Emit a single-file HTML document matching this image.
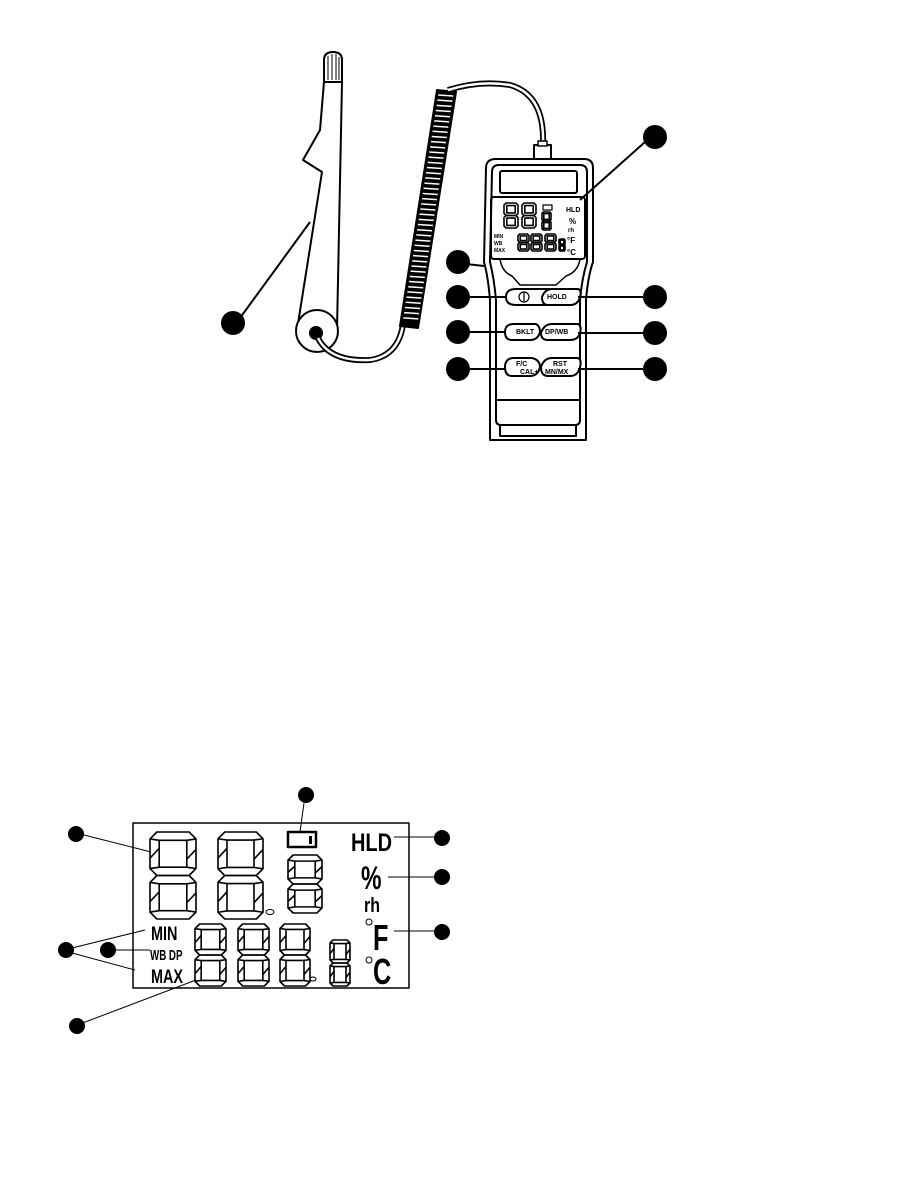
<!DOCTYPE html>
<html><head><meta charset="utf-8"><style>
html,body{margin:0;padding:0;background:#fff;}
svg{display:block}
text{font-family:"Liberation Sans",sans-serif;font-weight:bold;}
</style></head><body>
<svg id="s" width="907" height="1188" viewBox="0 0 907 1188" xmlns="http://www.w3.org/2000/svg">
<g fill="none" stroke="#000" stroke-width="2" stroke-linejoin="round">
<!-- probe -->
<path d="M324,82 L324,60 Q324,52 333,52 Q342,52 342,60 L342,82 Z" fill="#fff"/>
<path d="M328,56 L328,80 M332,54 L332,80 M336,54 L336,80 M339,57 L339,80" stroke-width="1"/>
<path d="M324,82 L320,130 L303,160 L322,172 L297,330"/>
<path d="M342,82 L337,330"/>
<circle cx="317" cy="331" r="21" fill="#fff"/>
<circle cx="316" cy="333" r="6" fill="#000"/>
<line x1="310" y1="222" x2="240" y2="318"/>
<!-- cable from probe to coil -->
<path d="M318,338 Q330,362 370,360 Q398,356 403,325" stroke-width="6"/>
<path d="M318,338 Q330,362 370,360 Q398,356 403,325" stroke="#fff" stroke-width="2.5"/>
<!-- coil -->
<path d="M400,326 L437,90 L456,92 L418,328 Z" fill="#000"/>
<g id="coil" stroke="#fff" stroke-width="1.5"></g>
<!-- top cable -->
<path d="M448,90 Q480,80 510,85 Q545,95 543,145" stroke-width="6"/>
<path d="M448,90 Q480,80 510,85 Q545,95 543,145" stroke="#fff" stroke-width="2.5"/>
<rect x="534" y="145" width="17" height="15" fill="#fff"/>
<rect x="538" y="141" width="9" height="5" fill="#fff" stroke-width="1.5"/>
<!-- device body -->
<path d="M486,168 Q486,159 496,159 L584,159 Q593,159 593,168 L593,262 Q588,276 586,300 L586,400 L586,440 L490,440 L490,400 L490,300 Q488,276 484,262 Z" fill="#fff"/>
<path d="M492,172 Q492,165 499,165 L580,165 Q587,165 587,172 L587,262 Q582,278 580,300 L580,400 L496,400 L496,300 Q494,278 490,262 Z"/>
<path d="M496,400 L496,420 Q496,425 501,425 L575,425 Q580,425 580,420 L580,400"/>
<path d="M500,425 L500,436 L576,436 L576,425"/>
<path d="M500,259 Q502,272 512,276 L520,285 L556,285 L566,276 Q578,272 580,259" stroke-width="1.5"/>
<rect x="500" y="171" width="77" height="22" rx="2"/>
<rect x="491" y="197" width="94" height="62" rx="3"/>
<line x1="580" y1="200" x2="645" y2="142"/>
<line x1="466" y1="264" x2="484" y2="266"/>
<!-- buttons -->
<path d="M506,297 Q506,289 516,289 L550,289 Q556,290 556,297 Q556,305 548,305 L516,305 Q506,305 506,297Z" fill="#fff"/>
<path d="M542,297 Q545,289 552,289 L578,289 Q582,290 580,297 Q578,305 570,305 L548,305 Q542,305 542,297Z" fill="#fff"/>
<path d="M505,332 Q505,324 514,324 L536,324 Q540,326 540,332 Q538,340 530,340 L512,340 Q505,340 505,332Z" fill="#fff"/>
<path d="M541,333 Q544,324 552,324 L578,324 Q582,326 580,333 Q578,340 570,340 L548,340 Q541,340 541,333Z" fill="#fff"/>
<path d="M505,367 Q505,358 514,358 L532,358 Q540,360 540,367 Q538,376 530,376 L512,376 Q505,376 505,367Z" fill="#fff"/>
<path d="M541,367 Q544,358 552,358 L578,358 Q582,360 580,367 Q578,376 570,376 L548,376 Q541,376 541,367Z" fill="#fff"/>
<circle cx="524" cy="297" r="5" stroke-width="1.2"/><line x1="524" y1="292" x2="524" y2="302" stroke-width="1.2"/>
<line x1="466" y1="297" x2="506" y2="297"/>
<line x1="466" y1="332" x2="505" y2="332"/>
<line x1="466" y1="369" x2="505" y2="369"/>
<line x1="578" y1="297" x2="645" y2="297"/>
<line x1="578" y1="333" x2="645" y2="333"/>
<line x1="578" y1="369" x2="645" y2="369"/>
<rect x="543" y="205" width="9" height="5" stroke-width="1.2"/>
<!-- LCD diagram -->
<rect x="133" y="823" width="276" height="165" stroke-width="1.5"/>
<rect x="288" y="832" width="28" height="15" stroke-width="2.5"/>
<rect x="309" y="836" width="3" height="8" fill="#000" stroke="none"/>
<line x1="304" y1="803" x2="300" y2="832" stroke-width="1"/>
<line x1="84" y1="835" x2="151" y2="852" stroke-width="1"/>
<line x1="394" y1="837" x2="434" y2="837" stroke-width="1"/>
<line x1="388" y1="877" x2="434" y2="877" stroke-width="1"/>
<line x1="394" y1="931" x2="434" y2="931" stroke-width="1"/>
<line x1="72" y1="948" x2="145" y2="930" stroke-width="1"/>
<line x1="72" y1="953" x2="135" y2="970" stroke-width="1"/>
<line x1="115" y1="950" x2="150" y2="950" stroke-width="1"/>
<line x1="80" y1="1024" x2="196" y2="980" stroke-width="1"/>
<ellipse cx="270" cy="912" rx="4" ry="2.5" stroke-width="1"/>
<ellipse cx="313" cy="979" rx="3" ry="2" stroke-width="1"/>
<circle cx="369" cy="922" r="3" stroke-width="1"/>
<circle cx="369" cy="960" r="3" stroke-width="1"/>
<g id="digs" stroke-width="1.6"></g>
<g id="mini" stroke-width="1.6"></g>
</g>
<g fill="#000">
<circle cx="655" cy="137" r="12"/><circle cx="458" cy="262" r="12"/>
<circle cx="458" cy="297" r="12"/><circle cx="458" cy="332" r="12"/><circle cx="458" cy="369" r="12"/>
<circle cx="655" cy="297" r="12"/><circle cx="655" cy="333" r="12"/><circle cx="655" cy="369" r="12"/>
<circle cx="233" cy="323" r="12"/>
<circle cx="306" cy="795" r="8"/><circle cx="76" cy="834" r="8"/><circle cx="442" cy="838" r="8"/>
<circle cx="442" cy="877" r="8"/><circle cx="442" cy="932" r="8"/><circle cx="66" cy="950" r="8"/>
<circle cx="108" cy="950" r="8"/><circle cx="77" cy="1026" r="8"/>
</g>
<g font-size="7">
<text x="516" y="334" font-weight="normal">BKLT</text>
<text x="545" y="334" font-weight="normal">DP/WB</text>
<text x="547" y="299" font-weight="normal">HOLD</text>
<text x="516" y="366" font-weight="normal">F/C</text>
<text x="520" y="374" font-weight="normal">CAL+</text>
<text x="553" y="366" font-weight="normal">RST</text>
<text x="545" y="374" font-weight="normal">MN/MX</text>
</g>
<text x="566" y="212" font-size="7">HLD</text>
<text x="569" y="224" font-size="8">%</text>
<text x="568" y="232" font-size="6">rh</text>
<text x="567" y="243" font-size="8">°F</text>
<text x="567" y="255" font-size="8">°C</text>
<text x="494" y="238" font-size="5">MIN</text>
<text x="494" y="245" font-size="5">WB</text>
<text x="494" y="252" font-size="5">MAX</text>
<text x="351" y="851" font-size="25" transform="translate(351,851) scale(0.8,1) translate(-351,-851)">HLD</text>
<text x="361" y="889" font-size="32" transform="translate(361,889) scale(0.72,1) translate(-361,-889)">%</text>
<text x="364" y="912" font-size="20" transform="translate(364,912) scale(0.8,1) translate(-364,-912)">rh</text>
<text x="373" y="950" font-size="36" transform="translate(373,950) scale(0.7,1) translate(-373,-950)">F</text>
<text x="373" y="984" font-size="36" transform="translate(373,984) scale(0.7,1) translate(-373,-984)">C</text>
<text x="151" y="940" font-size="19" transform="translate(151,940) scale(0.76,1) translate(-151,-940)">MIN</text>
<text x="150" y="960" font-size="15" transform="translate(150,960) scale(0.65,1) translate(-150,-960)">WB DP</text>
<text x="151" y="983" font-size="19" transform="translate(151,983) scale(0.76,1) translate(-151,-983)">MAX</text>
</svg>
<script>
var NS="http://www.w3.org/2000/svg";
var coil=document.getElementById("coil");
for(var i=0;i<44;i++){var t=i/44;var y=95+t*228;
var l=document.createElementNS(NS,"line");var xl=437-(y-90)*37/236;l.setAttribute("x1",xl+2);l.setAttribute("x2",xl+17);l.setAttribute("y1",y);l.setAttribute("y2",y+1);coil.appendChild(l);}
var g=document.getElementById("digs");
function p(d){var e=document.createElementNS(NS,"path");e.setAttribute("d",d);g.appendChild(e);}
function half(x,y,w,h,full){var c=w*0.15;
p("M"+(x+c)+","+y+" L"+(x+w-c)+","+y+" L"+(x+w)+","+(y+c)+" L"+(x+w)+","+(y+h-c)+" L"+(x+w-c)+","+(y+h)+" L"+(x+c)+","+(y+h)+" L"+x+","+(y+h-c)+" L"+x+","+(y+c)+"Z");
var i=w*0.2;var ix=x+i,iy=y+i*0.9,iw=w-2*i,ih=h-1.8*i;
p("M"+ix+","+iy+" h"+iw+" v"+ih+" h"+(-iw)+"Z");
if(!full)return;
p("M"+x+","+(y+c)+" L"+ix+","+iy+" M"+(x+w)+","+(y+c)+" L"+(ix+iw)+","+iy+" M"+x+","+(y+h-c)+" L"+ix+","+(iy+ih)+" M"+(x+w)+","+(y+h-c)+" L"+(ix+iw)+","+(iy+ih));
p("M"+x+","+(y+h*0.6)+" L"+ix+","+(iy+ih*0.3)+" M"+(x+w)+","+(y+h*0.4)+" L"+(ix+iw)+","+(iy+ih*0.7));}
function dig(x,y,w,h,f){half(x,y,w,h/2,f);half(x,y+h/2,w,h/2,f);}
dig(150,832,46,87,1);dig(218,832,45,87,1);dig(288,855,34,58,1);
dig(195,924,31,62,1);dig(238,924,31,62,1);dig(280,924,30,62,1);dig(330,940,20,46,1);
g=document.getElementById("mini");
dig(504,203,14,25,0);dig(522,203,14,25,0);dig(542,212,9,18,0);
dig(518,234,11,17,0);dig(531,234,11,17,0);dig(545,234,11,17,0);dig(559,239,6,12,0);
</script>
</body></html>
